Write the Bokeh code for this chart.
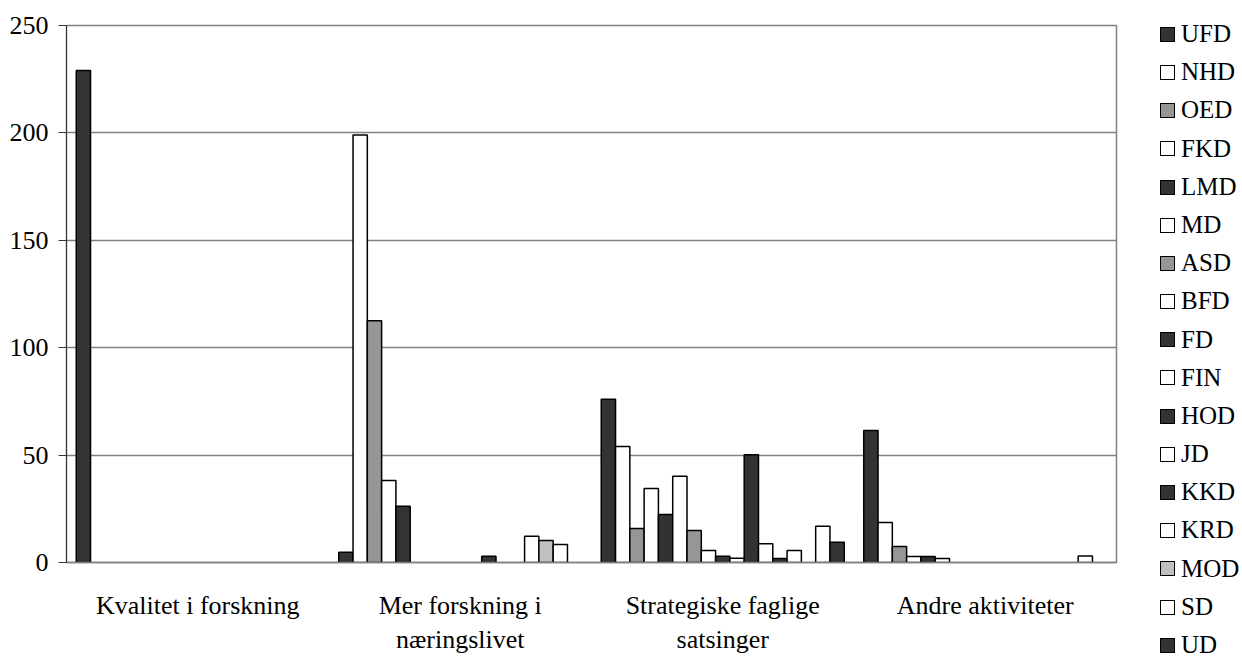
import numpy as np
from bokeh.plotting import figure
from bokeh.layouts import row
from bokeh.models import (ColumnDataSource, FactorRange, Range1d, SingleIntervalTicker, Div,
                          InlineStyleSheet)
from bokeh.transform import dodge
from bokeh.embed import file_html
from bokeh.resources import INLINE

categories = ["Kvalitet i forskning", "Mer forskning i\nnæringslivet",
              "Strategiske faglige\nsatsinger", "Andre aktiviteter"]

series = ["UFD", "NHD", "OED", "FKD", "LMD", "MD", "ASD", "BFD", "FD",
          "FIN", "HOD", "JD", "KKD", "KRD", "MOD", "SD", "UD"]

UFD = [229, 4.8, 76, 61.5]
NHD = [None, 199, 54, 18.6]
OED = [None, 112.5, 15.8, 7.4]
FKD = [None, 38.2, 34.5, 2.8]
LMD = [None, 26.2, 22.4, 2.8]
MD = [None, None, 40.1, 1.9]
ASD = [None, None, 14.9, None]
BFD = [None, None, 5.6, None]
FD = [None, None, 2.9, None]
FIN = [None, None, 2.0, None]
HOD = [None, 2.9, 50.2, None]
JD = [None, None, 8.7, None]
KKD = [None, None, 1.9, None]
KRD = [None, 12.2, 5.6, None]
MOD = [None, 10.2, None, None]
SD = [None, 8.4, 16.9, 3.0]
UD = [None, None, 9.4, None]

values = dict(UFD=UFD, NHD=NHD, OED=OED, FKD=FKD, LMD=LMD, MD=MD, ASD=ASD,
              BFD=BFD, FD=FD, FIN=FIN, HOD=HOD, JD=JD, KKD=KKD, KRD=KRD,
              MOD=MOD, SD=SD, UD=UD)

DARK, WHITE, GREY, LIGHT = "#333333", "#FFFFFF", "#969696", "#C0C0C0"
fills = [DARK, WHITE, GREY, WHITE, DARK, WHITE, GREY, WHITE, DARK,
         WHITE, DARK, WHITE, DARK, WHITE, LIGHT, WHITE, DARK]

FONT = "Liberation Serif"

data = {"cat": categories}
for s in series:
    data[s] = np.array(values[s], dtype=float)
source = ColumnDataSource(data)

H = 657
p = figure(width=1130, height=H, x_range=FactorRange(*categories, range_padding=0),
           y_range=Range1d(0, 250), output_backend="svg", toolbar_location=None,
           min_border_left=66, min_border_top=25, min_border_bottom=94,
           min_border_right=14)

edge = 0.0371
bw = (1 - 2 * edge) / len(series)
for i, s in enumerate(series):
    off = -0.5 + edge + bw * (i + 0.5)
    p.vbar(x=dodge("cat", off, range=p.x_range), top=s, width=bw, source=source,
           fill_color=fills[i], line_color="black", line_width=1.5)

p.xgrid.grid_line_color = None
p.ygrid.grid_line_color = "#808080"
p.ygrid.grid_line_width = 1.5
p.outline_line_color = "#808080"
p.outline_line_width = 1.5
p.background_fill_color = "white"
p.border_fill_color = "white"

p.yaxis.ticker = SingleIntervalTicker(interval=50)
p.yaxis.axis_line_color = "#333333"
p.yaxis.major_tick_line_color = "#333333"
p.yaxis.major_tick_out = 8
p.yaxis.major_tick_in = 0
p.yaxis.minor_tick_line_color = None
p.yaxis.major_label_text_font = FONT
p.yaxis.major_label_text_font_size = "26px"
p.yaxis.major_label_text_color = "black"
p.yaxis.major_label_standoff = 10

p.xaxis.axis_line_color = "#808080"
p.xaxis.axis_line_width = 1.5
p.xaxis.major_tick_line_color = None
p.xaxis.minor_tick_line_color = None
p.xaxis.major_label_text_font = FONT
p.xaxis.major_label_text_font_size = "26px"
p.xaxis.major_label_text_color = "black"
p.xaxis.major_label_standoff = 22

# legend, built from the series names and their fill colours
FAMILY = "'Liberation Serif', 'DejaVu Serif', 'Times New Roman', serif"
rows_html = "".join(
    f'<div class="lg-row">'
    f'<span class="lg-key" style="background:{fills[i]};"></span>'
    f'<span class="lg-txt">{s}</span></div>'
    for i, s in enumerate(series))
css = f"""
:host, :host * {{ font-family: {FAMILY} !important; }}
.lg-box {{ padding-top: 10px; padding-left: 25px; font-size: 25px; color: #000; }}
.lg-row {{ height: 38.2px; line-height: 38.2px; white-space: nowrap; }}
.lg-key {{ display: inline-block; box-sizing: border-box; width: 15px; height: 15px;
          border: 1.5px solid #000; vertical-align: middle; margin-right: 6px;
          position: relative; top: -2px; }}
"""
legend_div = Div(text=f'<div class="lg-box">{rows_html}</div>',
                 stylesheets=[InlineStyleSheet(css=css)],
                 width=112, height=H)

layout = row(p, legend_div, spacing=0)
open("out.html", "w").write(file_html(layout, INLINE))
